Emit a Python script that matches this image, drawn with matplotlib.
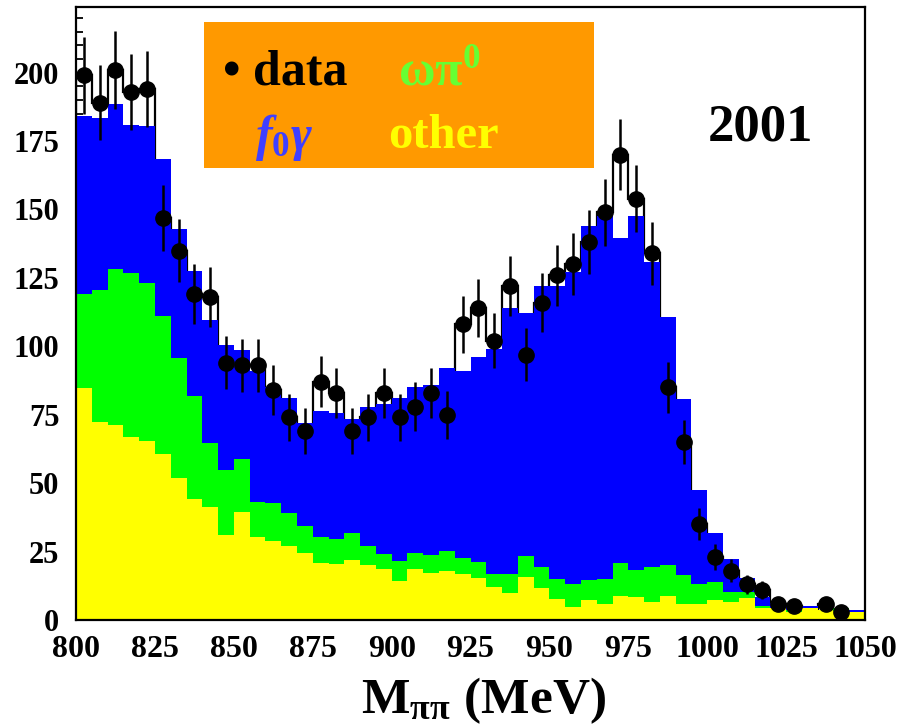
import numpy as np
import matplotlib.pyplot as plt
from matplotlib.patches import Rectangle
from matplotlib.ticker import MultipleLocator

plt.rcParams['font.family'] = ['Liberation Serif', 'DejaVu Serif']
plt.rcParams['font.weight'] = 'bold'
plt.rcParams['mathtext.fontset'] = 'custom'
plt.rcParams['mathtext.rm'] = 'Liberation Serif:bold'
plt.rcParams['mathtext.it'] = 'Liberation Serif:italic:bold'
plt.rcParams['mathtext.bf'] = 'Liberation Serif:bold'

# 5 MeV bins, 800 - 1050 MeV
edges = np.arange(800, 1051, 5)
centers = edges[:-1] + 2.5

# stacked MC, cumulative tops
top_f0 = [184, 183.5, 188.5, 181, 180.5, 168.5, 143, 127.5, 109.5, 100.5,
          98.5, 91, 85, 81, 72, 76.5, 75.5, 73.5, 78, 79,
          81, 85, 86, 92, 91, 96, 99, 114, 112, 122,
          122, 127, 144, 147.5, 139.5, 147.7, 130.8, 110.7, 80.8, 47.5,
          31.8, 22.4, 15.4, 8.3, 6.1, 5.2, 5.2, 3.7, 3.7, 3.7]
top_omega = [119, 120.4, 128.4, 126.8, 123, 111, 95.6, 82, 64.7, 54.7,
             58.8, 43.2, 42.6, 39, 34.4, 30.3, 29.6, 31.6, 26.9, 24.1,
             21.7, 24.3, 23.7, 25.3, 22.5, 21, 16.8, 16.8, 23.4, 19.5,
             14.8, 13.1, 14.6, 14.8, 20.9, 18.4, 19.4, 20, 16.6, 13.2,
             13.7, 10.4, 10.4, 5.2, 4.2, 3.7, 3.7, 3, 4.2, 3]
top_other = [84.8, 72.3, 71.1, 66.9, 65.3, 60.6, 51.8, 44.2, 41.2, 31,
             39.4, 30.3, 28.9, 27.1, 24.6, 20.8, 20.4, 21.9, 20, 18.5,
             14.4, 18.6, 17.3, 17.9, 16.8, 15.5, 11.9, 10, 15.8, 11.6,
             7.7, 4.6, 7.3, 5.8, 8.9, 8.3, 6.7, 8.6, 5.7, 5.7,
             7.3, 6.4, 8.2, 4.2, 4.2, 3, 4.2, 3.7, 3.2, 3]

# data points (nan = empty bin)
data = [199, 189, 201, 193, 194, 147, 135, 119, 118, 94,
        93, 93, 84, 74, 69, 87, 83, 69, 74, 83,
        74, 78, 83, 75, 108, 114, 102, 122, 97, 116,
        126, 130, 138, 149, 170, 154, 134, 85, 65, 35,
        23, 18, 13, 11, 6, 5, np.nan, 6, 3, np.nan]
data_err = [14.1, 13.7, 14.2, 13.9, 13.9, 12.1, 11.6, 10.9, 10.9, 9.7,
            9.6, 9.6, 9.2, 8.6, 8.3, 9.3, 9.1, 8.3, 8.6, 9.1,
            8.6, 8.8, 9.1, 8.7, 10.4, 10.7, 10.1, 11.0, 9.8, 10.8,
            11.2, 11.4, 11.7, 12.2, 13.0, 12.4, 11.6, 9.2, 8.1, 5.9,
            4.8, 4.2, 3.6, 3.3, 2.4, 2.2, np.nan, 2.4, 1.7, np.nan]

fig = plt.figure(figsize=(9.01, 7.28), dpi=100)
ax = fig.add_axes([0.0844, 0.1484, 0.8757, 0.842])

data_arr = np.array(data, dtype=float)
ax.stairs(np.nan_to_num(data_arr), edges, color='black', lw=1.6, zorder=1)

ax.stairs(top_f0, edges, fill=True, color='#0000ff', zorder=2)
ax.stairs(top_omega, edges, fill=True, color='#00ff00', zorder=2)
ax.stairs(top_other, edges, fill=True, color='#ffff00', zorder=2)

ax.errorbar(centers, data_arr, yerr=data_err, fmt='o', color='black',
            ms=11, elinewidth=1.8, capsize=0, zorder=4)

ax.set_xlim(800, 1050)
ax.set_ylim(0, 224)
ax.xaxis.set_major_locator(MultipleLocator(25))
ax.xaxis.set_minor_locator(MultipleLocator(5))
ax.yaxis.set_major_locator(MultipleLocator(25))
ax.yaxis.set_minor_locator(MultipleLocator(5))
ax.tick_params(which='both', direction='in', top=False, right=False, width=1.3)
ax.tick_params(which='major', length=10)
ax.tick_params(which='minor', length=5)
ax.tick_params(axis='y', labelsize=22, pad=12)
ax.tick_params(axis='x', labelsize=23, pad=11)
for s in ax.spines.values():
    s.set_linewidth(1.6)

ax.set_xlabel(r'$\mathrm{M_{\pi\pi}\ (MeV)}$', fontsize=37)
ax.xaxis.set_label_coords(0.517, -0.09)

# legend box
ax.add_patch(Rectangle((0.162, 0.737), 0.495, 0.2385, transform=ax.transAxes,
                       facecolor='#ff9900', edgecolor='none', zorder=5))
ax.text(0.186, 0.874, '\u2022 data', transform=ax.transAxes, fontsize=36,
        color='black', ha='left', va='baseline', zorder=6)
ax.text(0.408, 0.874, r'$\mathrm{\omega\pi^{0}}$', transform=ax.transAxes,
        fontsize=36, color='#66ff33', ha='left', va='baseline', zorder=6)
ax.text(0.227, 0.767, r'$f_{\mathrm{0}}\gamma$', transform=ax.transAxes,
        fontsize=36, color='#3f3fff', ha='left', va='baseline', zorder=6)
ax.text(0.395, 0.770, 'other', transform=ax.transAxes, fontsize=35,
        color='#ffff00', ha='left', va='baseline', zorder=6)

ax.text(0.868, 0.804, '2001', transform=ax.transAxes, fontsize=38,
        ha='center', va='center')

fig.savefig('out.png', dpi=100)
